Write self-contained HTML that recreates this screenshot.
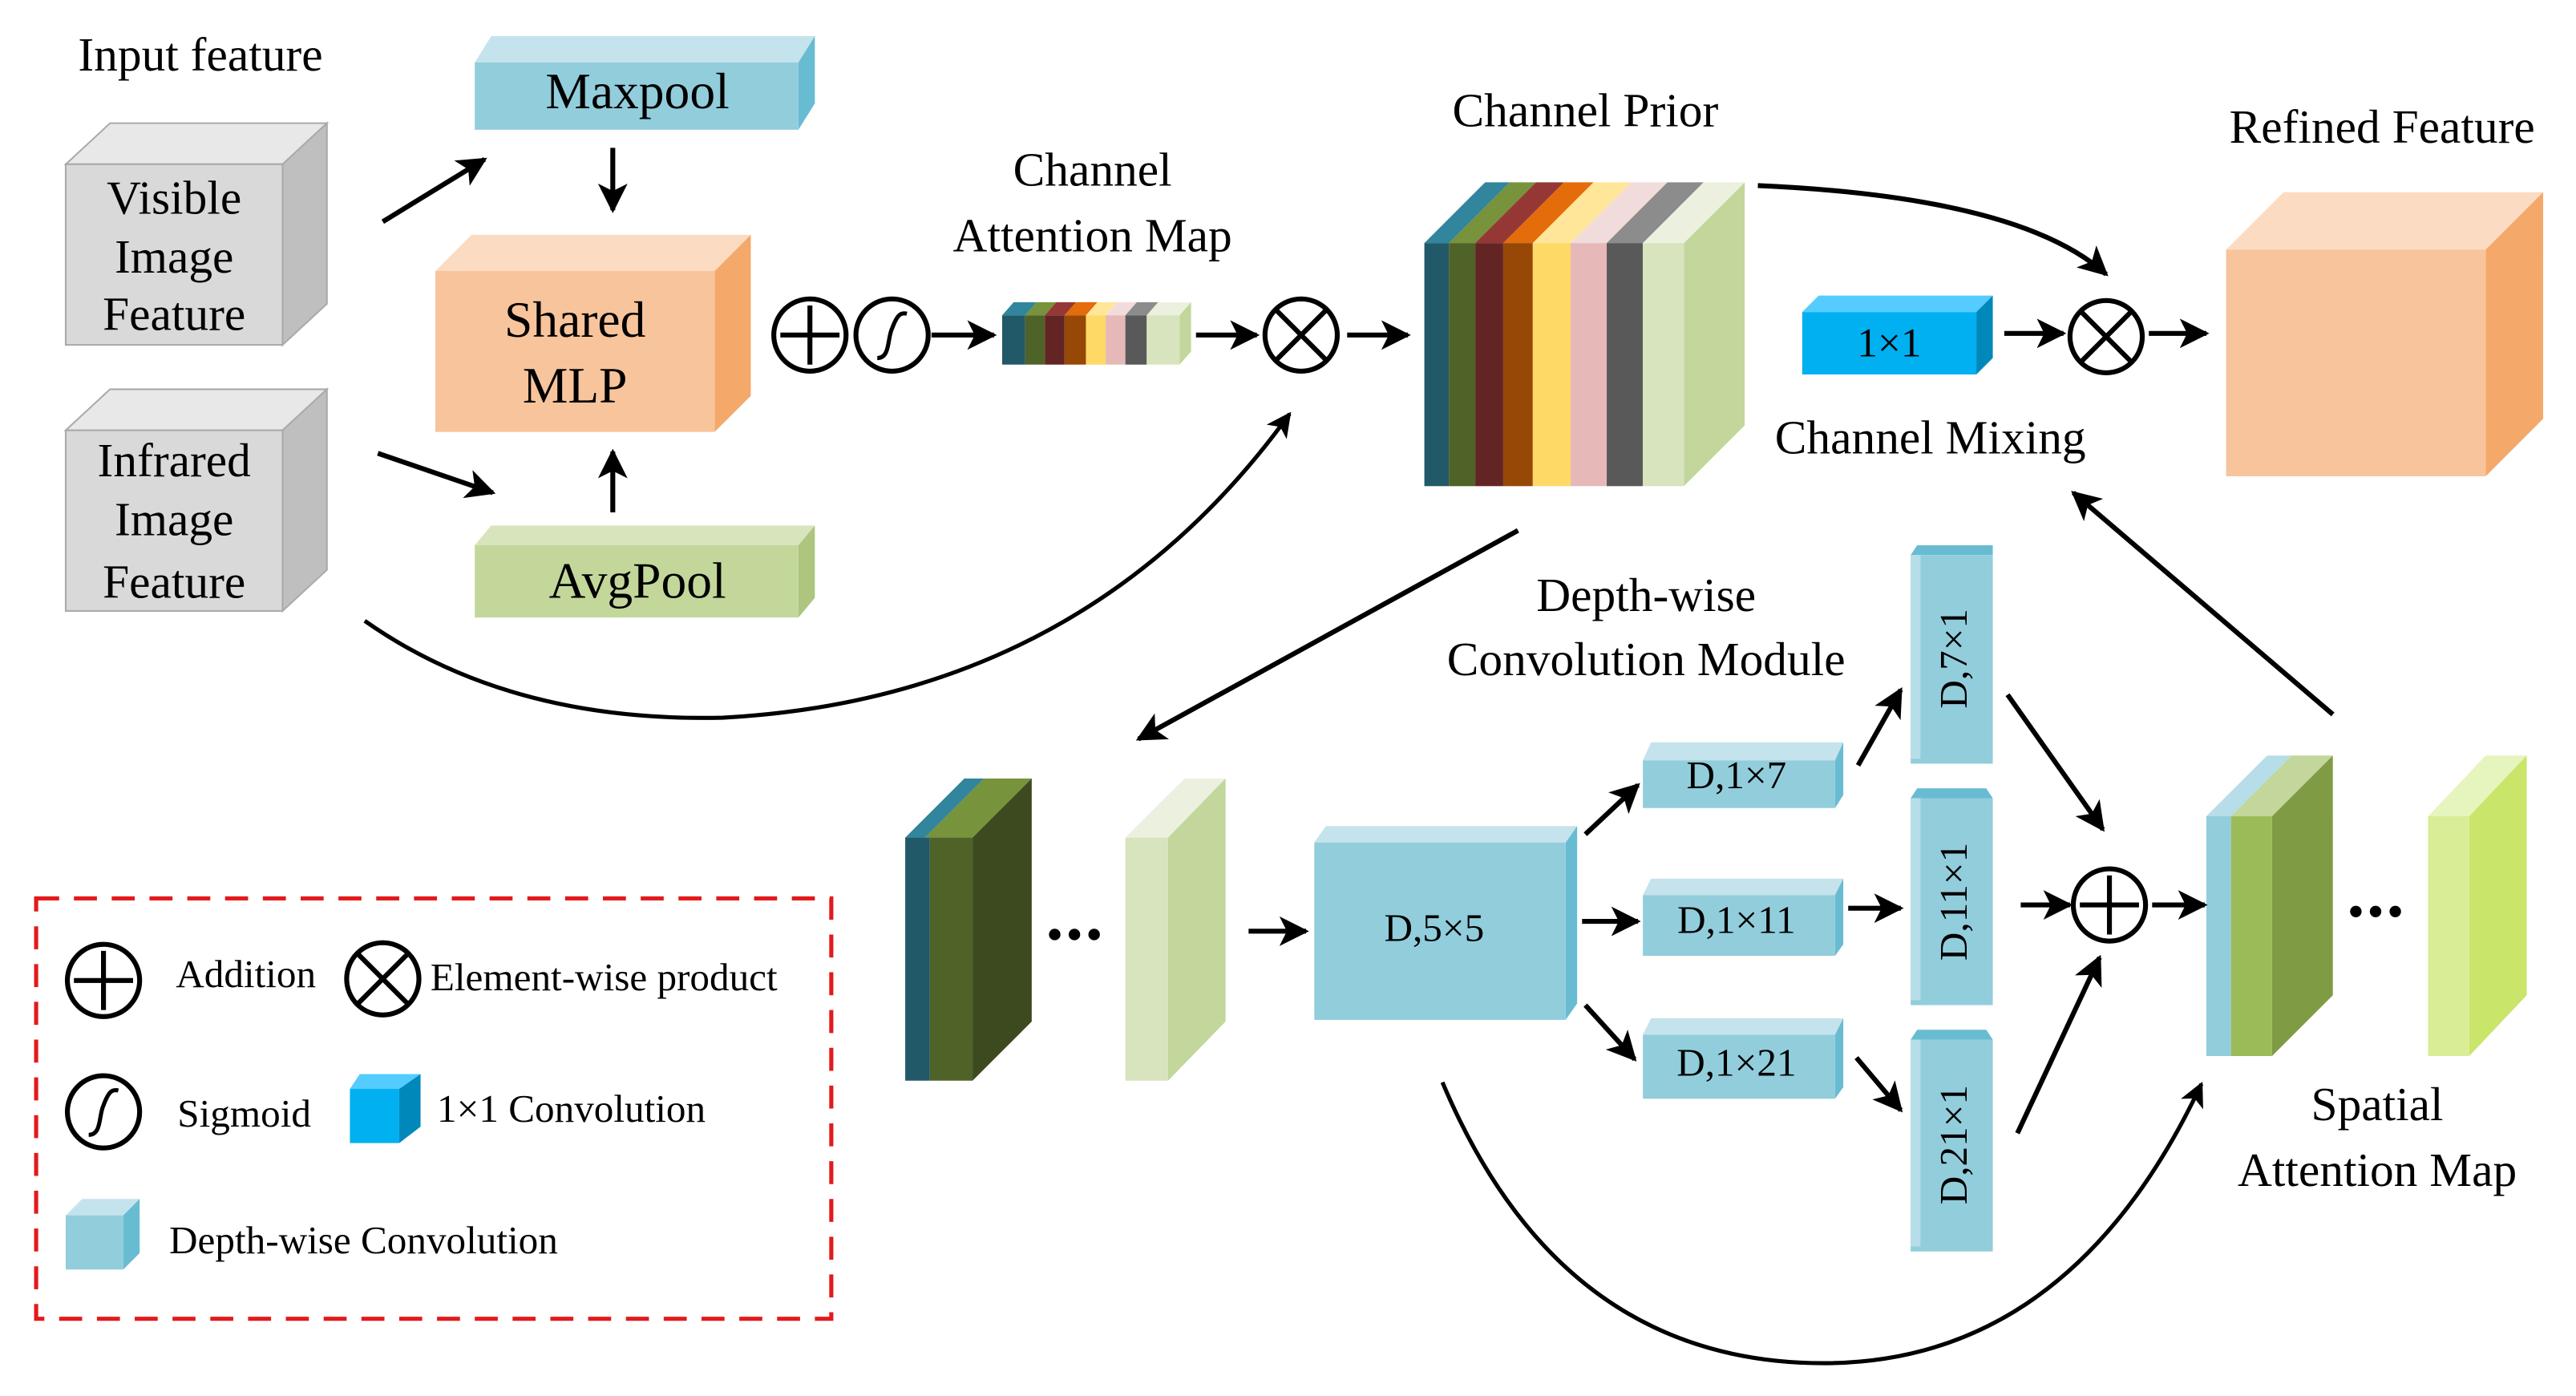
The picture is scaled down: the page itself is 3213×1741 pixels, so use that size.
<!DOCTYPE html>
<html><head><meta charset="utf-8"><style>
html,body{margin:0;padding:0;background:#fff}
svg{display:block}
text{font-family:"Liberation Serif","Times New Roman",Times,"DejaVu Serif",serif;fill:#000}
</style></head><body>
<svg width="3213" height="1741" viewBox="0 0 1568 850" preserveAspectRatio="none" xmlns="http://www.w3.org/2000/svg" font-family="Liberation Serif, Times New Roman, DejaVu Serif, serif">
<defs>
<marker id="a" viewBox="0 0 10 10" refX="9" refY="5" markerWidth="6" markerHeight="6" orient="auto" markerUnits="strokeWidth">
<path d="M0,0 L10,5 L0,10 L2.5,5 z" fill="#000"/></marker>
</defs>
<g stroke="none">
<polygon points="40,100 67,75 199,75 172,100" fill="#e8e8e8" stroke="#aaa"/>
<polygon points="172,100 199,75 199,185 172,210" fill="#bfbfbf" stroke="#aaa"/>
<rect x="40" y="100" width="132" height="110" fill="#d9d9d9" stroke="#aaa"/>
<polygon points="40,262 67,237 199,237 172,262" fill="#e8e8e8" stroke="#aaa"/>
<polygon points="172,262 199,237 199,347 172,372" fill="#bfbfbf" stroke="#aaa"/>
<rect x="40" y="262" width="132" height="110" fill="#d9d9d9" stroke="#aaa"/>
<polygon points="289,38 299,22 496,22 486,38" fill="#c5e3ec"/>
<polygon points="486,38 496,22 496,63 486,79" fill="#68bcd2"/>
<rect x="289" y="38" width="197" height="41" fill="#92cddc"/>
<polygon points="265,165 287,143 457,143 435,165" fill="#fbdcc3"/>
<polygon points="435,165 457,143 457,241 435,263" fill="#f4a86a"/>
<rect x="265" y="165" width="170" height="98" fill="#f8c49c"/>
<polygon points="289,332 299,320 496,320 486,332" fill="#d8e4bc"/>
<polygon points="486,332 496,320 496,364 486,376" fill="#adc57f"/>
<rect x="289" y="332" width="197" height="44" fill="#c4d79b"/>
<polygon points="718,192 725,184 725,214 718,222" fill="#c3d69b"/>
<polygon points="610,192 617,184 631,184 624,192" fill="#31859c"/>
<polygon points="624,192 631,184 643,184 636,192" fill="#77933c"/>
<polygon points="636,192 643,184 655,184 648,192" fill="#953735"/>
<polygon points="648,192 655,184 668,184 661,192" fill="#e46c0a"/>
<polygon points="661,192 668,184 680,184 673,192" fill="#ffe699"/>
<polygon points="673,192 680,184 692,184 685,192" fill="#f2dcdb"/>
<polygon points="685,192 692,184 705,184 698,192" fill="#8c8c8c"/>
<polygon points="698,192 705,184 725,184 718,192" fill="#ebf1de"/>
<rect x="610" y="192" width="14" height="30" fill="#215968"/>
<rect x="624" y="192" width="12" height="30" fill="#4f6228"/>
<rect x="636" y="192" width="12" height="30" fill="#632523"/>
<rect x="648" y="192" width="13" height="30" fill="#974806"/>
<rect x="661" y="192" width="12" height="30" fill="#ffd966"/>
<rect x="673" y="192" width="12" height="30" fill="#e6b9b8"/>
<rect x="685" y="192" width="13" height="30" fill="#595959"/>
<rect x="698" y="192" width="20" height="30" fill="#d7e4bd"/>
<polygon points="1025,148 1062,111 1062,259 1025,296" fill="#c3d69b"/>
<polygon points="867,148 904,111 919,111 882,148" fill="#31859c"/>
<polygon points="882,148 919,111 935,111 898,148" fill="#77933c"/>
<polygon points="898,148 935,111 952,111 915,148" fill="#953735"/>
<polygon points="915,148 952,111 970,111 933,148" fill="#e46c0a"/>
<polygon points="933,148 970,111 993,111 956,148" fill="#ffe699"/>
<polygon points="956,148 993,111 1015,111 978,148" fill="#f2dcdb"/>
<polygon points="978,148 1015,111 1037,111 1000,148" fill="#8c8c8c"/>
<polygon points="1000,148 1037,111 1062,111 1025,148" fill="#ebf1de"/>
<rect x="867" y="148" width="15" height="148" fill="#215968"/>
<rect x="882" y="148" width="16" height="148" fill="#4f6228"/>
<rect x="898" y="148" width="17" height="148" fill="#632523"/>
<rect x="915" y="148" width="18" height="148" fill="#974806"/>
<rect x="933" y="148" width="23" height="148" fill="#ffd966"/>
<rect x="956" y="148" width="22" height="148" fill="#e6b9b8"/>
<rect x="978" y="148" width="22" height="148" fill="#595959"/>
<rect x="1000" y="148" width="25" height="148" fill="#d7e4bd"/>
<polygon points="1097,190 1107,180 1213,180 1203,190" fill="#55ccff"/>
<polygon points="1203,190 1213,180 1213,218 1203,228" fill="#0088bb"/>
<rect x="1097" y="190" width="106" height="38" fill="#00b0f0"/>
<polygon points="1355,152 1390,117 1548,117 1513,152" fill="#fbdcc3"/>
<polygon points="1513,152 1548,117 1548,255 1513,290" fill="#f4a86a"/>
<rect x="1355" y="152" width="158" height="138" fill="#f8c49c"/>
<polygon points="551,510 587,474 599,474 563,510" fill="#31859c"/>
<polygon points="563,510 599,474 628,474 592,510" fill="#77933c"/>
<polygon points="592,510 628,474 628,622 592,658" fill="#3d4a20"/>
<rect x="551" y="510" width="15" height="148" fill="#215968"/>
<rect x="566" y="510" width="26" height="148" fill="#4f6228"/>
<polygon points="685,510 721,474 746,474 711,510" fill="#ebf1de"/>
<polygon points="711,510 746,474 746,622 711,658" fill="#c3d69b"/>
<rect x="685" y="510" width="26" height="148" fill="#d7e4bd"/>
<polygon points="800,513 807,503 960,503 953,513" fill="#c5e3ec"/>
<polygon points="953,513 960,503 960,611 953,621" fill="#68bcd2"/>
<rect x="800" y="513" width="153" height="108" fill="#92cddc"/>
<polygon points="1000,463 1005,452 1122,452 1117,463" fill="#c5e3ec"/>
<polygon points="1117,463 1122,452 1122,484 1117,492" fill="#68bcd2"/>
<rect x="1000" y="463" width="117" height="29" fill="#92cddc"/>
<polygon points="1000,545 1005,535 1122,535 1117,545" fill="#c5e3ec"/>
<polygon points="1117,545 1122,535 1122,575 1117,582" fill="#68bcd2"/>
<rect x="1000" y="545" width="117" height="37" fill="#92cddc"/>
<polygon points="1000,630 1005,620 1122,620 1117,630" fill="#c5e3ec"/>
<polygon points="1117,630 1122,620 1122,662 1117,669" fill="#68bcd2"/>
<rect x="1000" y="630" width="117" height="39" fill="#92cddc"/>
<polygon points="1163,338 1167,332 1213,332 1213,338" fill="#68bcd2"/>
<rect x="1163" y="338" width="50" height="127" fill="#92cddc"/>
<rect x="1163" y="338" width="6" height="124" fill="#b7dee8"/>
<polygon points="1163,486 1167,480 1209,480 1213,486" fill="#68bcd2"/>
<rect x="1163" y="486" width="50" height="126" fill="#92cddc"/>
<rect x="1163" y="486" width="6" height="123" fill="#b7dee8"/>
<polygon points="1163,633 1167,627 1209,627 1213,633" fill="#68bcd2"/>
<rect x="1163" y="633" width="50" height="129" fill="#92cddc"/>
<rect x="1163" y="633" width="6" height="126" fill="#b7dee8"/>
<polygon points="1343,497 1380,460 1395,460 1358,497" fill="#b7dee8"/>
<polygon points="1358,497 1395,460 1420,460 1383,497" fill="#c3d69b"/>
<polygon points="1383,497 1420,460 1420,606 1383,643" fill="#7f9c45"/>
<rect x="1343" y="497" width="15" height="146" fill="#92cddc"/>
<rect x="1358" y="497" width="25" height="146" fill="#9bbb59"/>
<polygon points="1478,497 1513,460 1538,460 1503,497" fill="#e6f5be"/>
<polygon points="1503,497 1538,460 1538,606 1503,643" fill="#c9e56a"/>
<rect x="1478" y="497" width="25" height="146" fill="#d8ed95"/>
<polygon points="213,663 219,654 256,654 243,663" fill="#55ccff"/>
<polygon points="243,663 256,654 256,686 243,696" fill="#0088bb"/>
<rect x="213" y="663" width="30" height="33" fill="#00b0f0"/>
<polygon points="40,740 50,730 85,730 75,740" fill="#c5e3ec"/>
<polygon points="75,740 85,730 85,763 75,773" fill="#68bcd2"/>
<rect x="40" y="740" width="35" height="33" fill="#92cddc"/>
</g>

<rect x="22" y="547" width="484" height="256" fill="none" stroke="#e31a1c" stroke-width="2.5" stroke-dasharray="14,9"/>

<g fill="none" stroke="#000" stroke-width="3" marker-end="url(#a)">
<line x1="233" y1="135" x2="295" y2="97"/>
<line x1="373" y1="90" x2="373" y2="128"/>
<line x1="373" y1="312" x2="373" y2="275"/>
<line x1="230" y1="276" x2="300" y2="300"/>
<line x1="567" y1="204" x2="605" y2="204"/>
<line x1="728" y1="204" x2="765" y2="204"/>
<line x1="820" y1="204" x2="857" y2="204"/>
<line x1="1220" y1="203" x2="1256" y2="203"/>
<line x1="1308" y1="203" x2="1343" y2="203"/>
<path d="M1070,113 Q1230,120 1282,167"/>
<path d="M222,378 Q310,440 440,437 Q660,425 785,252" stroke-width="2.5"/>
<line x1="924" y1="323" x2="693" y2="450"/>
<line x1="1420" y1="435" x2="1262" y2="300"/>
<line x1="760" y1="567" x2="795" y2="567"/>
<line x1="965" y1="508" x2="997" y2="478"/>
<line x1="963" y1="561" x2="997" y2="561"/>
<line x1="965" y1="612" x2="995" y2="645"/>
<line x1="1131" y1="466" x2="1157" y2="420"/>
<line x1="1125" y1="553" x2="1157" y2="553"/>
<line x1="1130" y1="644" x2="1157" y2="676"/>
<line x1="1222" y1="423" x2="1280" y2="505"/>
<line x1="1228" y1="690" x2="1278" y2="583"/>
<line x1="1230" y1="551" x2="1260" y2="551"/>
<line x1="1310" y1="551" x2="1342" y2="551"/>
<path d="M878,659 Q950,830 1110,830 Q1260,830 1340,660" stroke-width="2.5"/>
</g>

<g fill="#fff" stroke="#000" stroke-width="3">
<circle cx="493" cy="204" r="22"/>
<circle cx="543" cy="204" r="22"/>
<circle cx="792" cy="204" r="22"/>
<circle cx="1282" cy="205" r="22"/>
<circle cx="1284" cy="551" r="22"/>
<circle cx="63" cy="597" r="22"/>
<circle cx="233" cy="596" r="22"/>
<circle cx="63" cy="677" r="22"/>
</g>
<g fill="none" stroke="#000" stroke-width="3">
<path d="M493,186 V222 M475,204 H511"/>
<path d="M63,579 V615 M45,597 H81"/>
<path d="M1284,533 V569 M1266,551 H1302"/>
<path d="M777,189 L807,219 M807,189 L777,219"/>
<path d="M1267,190 L1297,220 M1297,190 L1267,220"/>
<path d="M218,581 L248,611 M248,581 L218,611"/>
<path d="M534,218 C542,218 540,206 543,200 C546,192 548,190 552,191" stroke-width="2.5"/>
<path d="M54,691 C62,691 60,679 63,673 C66,665 68,663 72,664" stroke-width="2.5"/>
</g>
<g fill="#000">
<circle cx="642" cy="569" r="3.5"/><circle cx="654" cy="569" r="3.5"/><circle cx="666" cy="569" r="3.5"/>
<circle cx="1434" cy="555" r="3.5"/><circle cx="1446" cy="555" r="3.5"/><circle cx="1458" cy="555" r="3.5"/>
</g>

<g font-size="29" text-anchor="middle">
<text x="122" y="43">Input feature</text>
<text x="106" y="130">Visible</text>
<text x="106" y="166">Image</text>
<text x="106" y="201">Feature</text>
<text x="106" y="290">Infrared</text>
<text x="106" y="326">Image</text>
<text x="106" y="364">Feature</text>
<text x="388" y="66" font-size="31">Maxpool</text>
<text x="350" y="205" font-size="31">Shared</text>
<text x="350" y="245" font-size="31">MLP</text>
<text x="388" y="364" font-size="31">AvgPool</text>
<text x="665" y="113">Channel</text>
<text x="665" y="153">Attention Map</text>
<text x="965" y="77">Channel Prior</text>
<text x="1450" y="87">Refined Feature</text>
<text x="1175" y="276">Channel Mixing</text>
<text x="1002" y="372">Depth-wise</text>
<text x="1002" y="411">Convolution Module</text>
<text x="1447" y="682">Spatial</text>
<text x="1447" y="722">Attention Map</text>
<text x="1150" y="217" font-size="25">1×1</text>
<text x="873" y="573" font-size="24">D,5×5</text>
<text x="1057" y="480" font-size="24">D,1×7</text>
<text x="1057" y="568" font-size="24">D,1×11</text>
<text x="1057" y="655" font-size="24">D,1×21</text>
<text transform="translate(1197,401) rotate(-90)" font-size="24">D,7×1</text>
<text transform="translate(1197,549) rotate(-90)" font-size="24">D,11×1</text>
<text transform="translate(1197,697) rotate(-90)" font-size="24">D,21×1</text>
</g>
<g font-size="24">
<text x="107" y="601">Addition</text>
<text x="262" y="603">Element-wise product</text>
<text x="108" y="686">Sigmoid</text>
<text x="266" y="683">1×1 Convolution</text>
<text x="103" y="763">Depth-wise Convolution</text>
</g>
</svg>
</body></html>
